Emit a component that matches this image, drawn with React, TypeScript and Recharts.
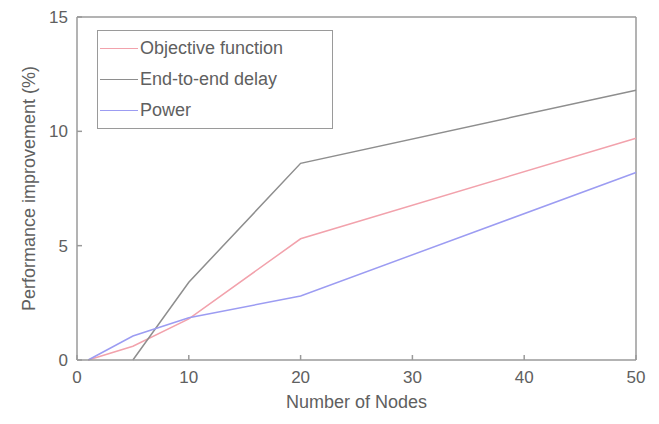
import {
  LineChart,
  Line,
  XAxis,
  YAxis,
  ReferenceLine,
} from "recharts";

// values
const xTicks = [0, 10, 20, 30, 40, 50];
const yTicks = [0, 5, 10, 15];

const objectiveNodes = [1, 5, 10, 20, 50];
const objectiveValues = [0, 0.6, 1.8, 5.3, 9.7];

const delayNodes = [5, 10, 20, 50];
const delayValues = [0, 3.4, 8.6, 11.8];

const powerNodes = [1, 5, 10, 20, 50];
const powerValues = [0, 1.05, 1.85, 2.8, 8.2];

const series = [
  { name: "Objective function", color: "#f2a2ac", nodes: objectiveNodes, values: objectiveValues },
  { name: "End-to-end delay", color: "#8e8e8e", nodes: delayNodes, values: delayValues },
  { name: "Power", color: "#9c9cf2", nodes: powerNodes, values: powerValues },
];

const axisColor = "#9a9a9a";
const textColor = "#606060";
const font = "Arial, 'Liberation Sans', sans-serif";

// legend drawn as an overlay so it does not take space from the plot
const LegendBox = () => (
  <div
    style={{
      position: "absolute",
      left: 97,
      top: 30,
      border: `1.5px solid ${axisColor}`,
      background: "#fff",
      width: 234,
      padding: "2px 0",
      fontFamily: font,
      fontSize: 18,
      color: textColor,
    }}
  >
    {series.map((s) => (
      <div key={s.name} style={{ display: "flex", alignItems: "center", height: 31 }}>
        <div style={{ width: 38, height: 0, borderTop: `1.5px solid ${s.color}`, marginLeft: 2, marginRight: 2 }} />
        <span>{s.name}</span>
      </div>
    ))}
  </div>
);

export default function App() {
  return (
    <div style={{ position: "absolute", left: 0, top: 0, width: 659, height: 424, background: "#fff" }}>
      <LineChart
        width={659}
        height={424}
        margin={{ top: 17, right: 23, left: 17, bottom: 34 }}
      >
        <XAxis
          type="number"
          dataKey="x"
          domain={[0, 50]}
          ticks={xTicks}
          allowDuplicatedCategory={false}
          stroke={axisColor}
          strokeWidth={1.5}
          tickSize={-5}
          tickMargin={16}
          tick={{ fill: textColor, fontSize: 17, fontFamily: font }}
          label={{
            value: "Number of Nodes",
            position: "insideBottom",
            offset: -18,
            fill: textColor,
            fontSize: 18,
            fontFamily: font,
          }}
          height={30}
        />
        <YAxis
          type="number"
          domain={[0, 15]}
          ticks={yTicks}
          stroke={axisColor}
          strokeWidth={1.5}
          tickSize={-5}
          tickMargin={14}
          width={60}
          tick={{ fill: textColor, fontSize: 17, fontFamily: font }}
          label={{
            value: "Performance improvement (%)",
            angle: -90,
            position: "insideLeft",
            offset: 12,
            style: { textAnchor: "middle" },
            fill: textColor,
            fontSize: 18,
            fontFamily: font,
          }}
        />
        <ReferenceLine y={15} stroke={axisColor} strokeWidth={1.5} />
        <ReferenceLine x={50} stroke={axisColor} strokeWidth={1.5} />
        {series.map((s) => (
          <Line
            key={s.name}
            name={s.name}
            data={s.nodes.map((n, i) => ({ x: n, y: s.values[i] }))}
            dataKey="y"
            type="linear"
            stroke={s.color}
            strokeWidth={1.5}
            dot={false}
            isAnimationActive={false}
          />
        ))}
      </LineChart>
      <LegendBox />
    </div>
  );
}
